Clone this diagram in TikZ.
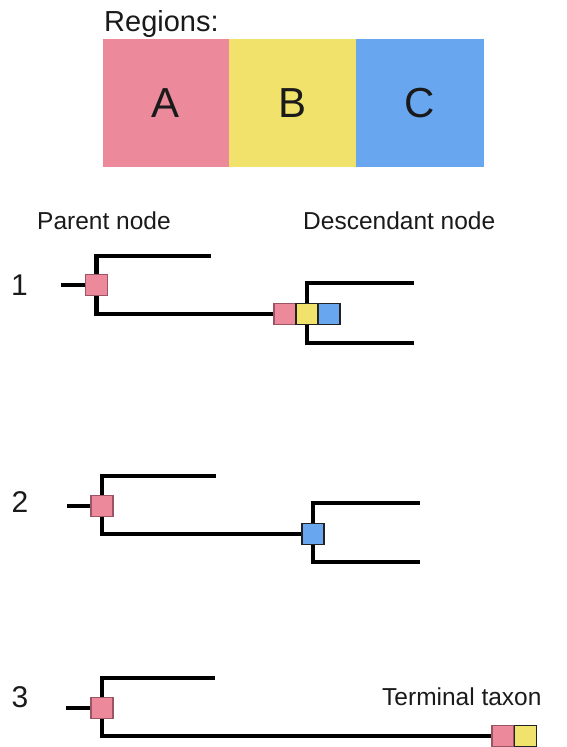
\documentclass[tikz,border=0pt]{standalone}
\usepackage{fontspec}
\setmainfont{Liberation Sans}
\usetikzlibrary{backgrounds}

\definecolor{regA}{HTML}{EC8A9C}
\definecolor{regB}{HTML}{F1E26B}
\definecolor{regC}{HTML}{68A7EF}
\definecolor{edgeA}{HTML}{9A5464}
\definecolor{edgeDark}{HTML}{222222}
\definecolor{ink}{HTML}{1A1A1A}

\tikzset{
  region/.style={minimum width=127pt, minimum height=128pt, inner sep=0pt,
    font=\fontsize{42}{50}\selectfont, text=ink},
  label/.style={anchor=base west, inner sep=0pt, text=ink,
    font=\fontsize{24.5}{29}\selectfont},
  treenum/.style={anchor=base, inner sep=0pt, text=ink,
    font=\fontsize{30}{36}\selectfont},
  branch/.style={line width=4.8pt, line cap=butt, line join=miter},
  statebox/.style={minimum width=22pt, minimum height=21pt, inner sep=0pt,
    line width=1.3pt},
  stA/.style={statebox, fill=regA, draw=edgeA},
  stB/.style={statebox, fill=regB, draw=edgeDark},
  stC/.style={statebox, fill=regC, draw=edgeDark},
}

\begin{document}
\begin{tikzpicture}[x=1pt, y=-1pt]
\useasboundingbox (0,0) rectangle (567,747);

% legend of regions
\node[label, font=\fontsize{29}{34}\selectfont] (regtitle) at (104,31.5) {Regions:};
\node[region, fill=regA, minimum width=126pt] (ra) at (166,103) {A};
\node[region, fill=regB] (rb) at (292.5,103) {B};
\node[region, fill=regC, minimum width=128pt] (rc) at (420,103) {C};

% column headings
\node[label] (hparent) at (37,229) {Parent node};
\node[label] (hdesc) at (303,229) {Descendant node};

% ---------- scenario 1 ----------
\node[treenum] (n1) at (19.5,295) {1};
\node[stA] (p1) at (96.5,285) {};
\node[stA] (d1a) at (285,314) {};
\node[stB] (d1b) at (307,314) {};
\node[stC] (d1c) at (329,314) {};
\coordinate (s1) at (61,285);
\coordinate (t1) at (211,256);
\coordinate (u1) at (414,283);
\coordinate (v1) at (414,343);

% ---------- scenario 2 ----------
\node[treenum] (n2) at (20,512) {2};
\node[stA] (p2) at (102,506) {};
\node[stC] (d2) at (313,534) {};
\coordinate (s2) at (67,506);
\coordinate (t2) at (216,476);
\coordinate (u2) at (420,503);
\coordinate (v2) at (420,562);

% ---------- scenario 3 ----------
\node[treenum] (n3) at (20,707.5) {3};
\node[stA] (p3) at (102,708) {};
\node[stA] (e3a) at (503,736) {};
\node[stB] (e3b) at (525.5,736) {};
\coordinate (s3) at (66,708);
\coordinate (t3) at (215,678);
\node[label] (hterm) at (382,705) {Terminal taxon};

% branches, drawn behind the state boxes
\begin{pgfonlayer}{background}
  \draw[branch] (s1) -- (p1);
  \draw[branch] (t1) -| (p1.center) |- (d1a);
  \draw[branch] (u1) -| (d1b.center) |- (v1);

  \draw[branch] (s2) -- (p2);
  \draw[branch] (t2) -| (p2.center) |- (d2);
  \draw[branch] (u2) -| (d2.center) |- (v2);

  \draw[branch] (s3) -- (p3);
  \draw[branch] (t3) -| (p3.center) |- (e3a);
\end{pgfonlayer}
\end{tikzpicture}
\end{document}
